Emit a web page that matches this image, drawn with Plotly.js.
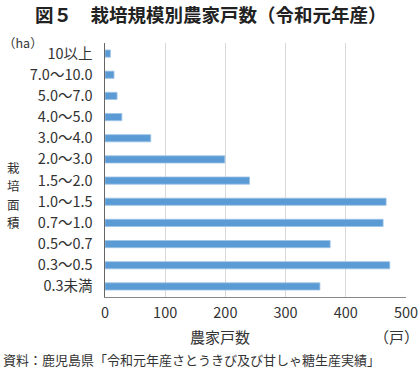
<!DOCTYPE html>
<html><head><meta charset="utf-8">
<script src="https://cdn.plot.ly/plotly-3.0.1.min.js"></script>
<style>html,body{margin:0;padding:0;background:#fff}#c{width:420px;height:371px}</style>
</head><body><div id="c"></div>
<script>
const categories = ["10以上","7.0～10.0","5.0～7.0","4.0～5.0","3.0～4.0","2.0～3.0","1.5～2.0","1.0～1.5","0.7～1.0","0.5～0.7","0.3～0.5","0.3未満"];
const farms = [9,15,20,28,76,199,240,467,462,374,473,357];
const xTicks = [0,100,200,300,400,500];
const yTitleChars = ["栽","培","面","積"];
const F = '"Noto Sans CJK JP", "Noto Sans", sans-serif';
const trace = {
  type:'bar', orientation:'h', y:categories, x:farms,
  marker:{color:'#5B9BD5', line:{color:'#9DC3E6', width:0.8}},
  hoverinfo:'none'
};
const ann = [
  {text:'<b>図５　栽培規模別農家戸数（令和元年産）</b>', xref:'paper', yref:'paper', x:0, y:1, xanchor:'center', yanchor:'middle',
    xshift:106, yshift:29, showarrow:false, font:{size:18.5, color:'#222', family:F}},
  {text:'（ha）', xref:'paper', yref:'paper', x:0, y:1, xanchor:'left', yanchor:'middle', xshift:-104, yshift:1, showarrow:false, font:{size:12.5, color:'#333'}},
  {text:'農家戸数', xref:'paper', yref:'paper', x:0, y:0, xanchor:'center', yanchor:'middle', xshift:115, yshift:-39, showarrow:false, font:{size:15, color:'#333'}},
  {text:'（戸）', xref:'paper', yref:'paper', x:1, y:0, xanchor:'right', yanchor:'middle', xshift:15, yshift:-39, showarrow:false, font:{size:15, color:'#333'}},
  {text:'資料：鹿児島県「令和元年産さとうきび及び甘しゃ糖生産実績」', xref:'paper', yref:'paper', x:0, y:0, xanchor:'left', yanchor:'middle', xshift:-104, yshift:-62, showarrow:false, font:{size:13, color:'#333'}}
];
yTitleChars.forEach((ch,i)=>{
  ann.push({text:ch, xref:'paper', yref:'paper', x:0, y:1, xanchor:'center', yanchor:'middle', xshift:-92, yshift:-(124+18.5*i),
    showarrow:false, borderpad:0, font:{size:12.5, color:'#333'}});
});
const layout = {
  width:420, height:371,
  margin:{l:105, r:14, t:43, b:74},
  paper_bgcolor:'#fff', plot_bgcolor:'#fff',
  showlegend:false, bargap:0.66,
  font:{family:F, size:13, color:'#333'},
  xaxis:{range:[0,500], tickvals:xTicks, ticktext:xTicks.map(String), showgrid:true, gridcolor:'#d9d9d9', gridwidth:1,
    zeroline:false, showline:true, linecolor:'#888', linewidth:1, ticks:'', ticklabelstandoff:3, tickfont:{size:14.5, color:'#333'}, fixedrange:true},
  yaxis:{autorange:'reversed', type:'category', showgrid:false, zeroline:false, showline:true, linecolor:'#666', linewidth:1.5,
    ticks:'', ticklabelstandoff:8, tickfont:{size:14.5, color:'#333'}, fixedrange:true},
  annotations:ann
};
Plotly.newPlot('c',[trace],layout,{staticPlot:true, displayModeBar:false});
</script></body></html>
